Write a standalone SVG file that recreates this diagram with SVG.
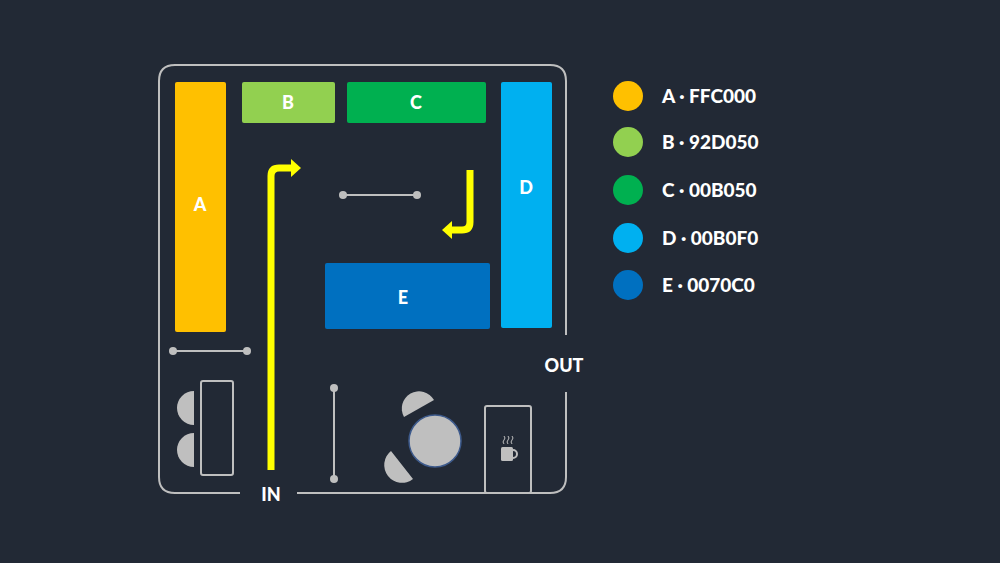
<svg xmlns="http://www.w3.org/2000/svg" width="1000" height="563" viewBox="0 0 1000 563">
<style>
.t{font-family:"Lato","Liberation Sans",sans-serif;font-weight:900;fill:#fff;font-size:18px;text-anchor:middle}
.lg{font-family:"Lato","Liberation Sans",sans-serif;font-weight:900;fill:#fff;font-size:19px}
.ln{stroke:#bfbfbf;stroke-width:2;fill:none}
.g{fill:#bfbfbf}
.y{stroke:#ffff00;stroke-width:7;fill:none}
</style>
<rect width="1000" height="563" fill="#222935"/>
<g id="walls">
<path class="ln" d="M240,493 H175 Q159,493 159,477 V81 Q159,65 175,65 H550 Q566,65 566,81 V335 M566,392 V477 Q566,493 550,493 H297"/>
</g>
<g id="A"><rect x="175" y="82" width="51" height="250" rx="2" fill="#ffc000"/><text class="t" x="200" y="211">A</text></g>
<g id="B"><rect x="242" y="82" width="93" height="41" rx="2" fill="#92d050"/><text class="t" x="288" y="109">B</text></g>
<g id="C"><rect x="347" y="82" width="139" height="41" rx="2" fill="#00b050"/><text class="t" x="416" y="109">C</text></g>
<g id="D"><rect x="501" y="82" width="51" height="246" rx="2" fill="#00b0f0"/><text class="t" x="526" y="194">D</text></g>
<g id="E"><rect x="325" y="263" width="165" height="66" rx="2" fill="#0070c0"/><text class="t" x="403" y="304">E</text></g>
<g id="connectors">
<path class="y" d="M271,470 V176 Q271,168 279,168 H292"/>
<polygon points="291,159 301,168 291,177" fill="#ffff00"/>
<path class="y" d="M470,170 V222 Q470,230 462,230 H451"/>
<polygon points="452,221 442,230 452,239" fill="#ffff00"/>
</g>
<g id="dividers" class="g">
<line class="ln" x1="343" y1="195" x2="417" y2="195"/><circle cx="343" cy="195" r="4"/><circle cx="417" cy="195" r="4"/>
<line class="ln" x1="173" y1="351" x2="247" y2="351"/><circle cx="173" cy="351" r="4"/><circle cx="247" cy="351" r="4"/>
<line class="ln" x1="334" y1="388" x2="334" y2="479"/><circle cx="334" cy="388" r="4"/><circle cx="334" cy="479" r="4"/>
</g>
<g id="desk">
<rect class="ln" x="201" y="381" width="32" height="94" rx="2"/>
<path class="g" d="M194,391 A17,17 0 0 0 194,425 Z"/>
<path class="g" d="M194,433 A17,17 0 0 0 194,467 Z"/>
</g>
<g id="roundtable">
<circle cx="435" cy="441" r="26" fill="#bfbfbf" stroke="#3d5a8c" stroke-width="1.5"/>
<path class="g" d="M404,417 A17,17 0 0 1 434,400 Z"/>
<path class="g" d="M413,479 A17,17 0 0 1 391,451 Z"/>
</g>
<g id="coffee">
<rect class="ln" x="485" y="406" width="46" height="87" rx="2"/>
<rect x="501" y="447" width="12" height="14" rx="1.5" fill="#bfbfbf"/>
<path d="M513,450 a4,4 0 0 1 0,8" stroke="#bfbfbf" stroke-width="2" fill="none"/>
<path d="M504,444 q-2,-2 0,-4 q2,-2 0,-4 M508,444 q-2,-2 0,-4 q2,-2 0,-4 M512,444 q-2,-2 0,-4 q2,-2 0,-4" stroke="#bfbfbf" stroke-width="1" fill="none"/>
</g>
<text class="t" x="271" y="501">IN</text>
<text class="t" x="564" y="372">OUT</text>
<g id="legend">
<circle cx="628" cy="96" r="15" fill="#ffc000"/><text class="lg" x="662" y="103">A · FFC000</text>
<circle cx="628" cy="142" r="15" fill="#92d050"/><text class="lg" x="662" y="149">B · 92D050</text>
<circle cx="628" cy="190" r="15" fill="#00b050"/><text class="lg" x="662" y="197">C · 00B050</text>
<circle cx="628" cy="238" r="15" fill="#00b0f0"/><text class="lg" x="662" y="245">D · 00B0F0</text>
<circle cx="628" cy="285" r="15" fill="#0070c0"/><text class="lg" x="662" y="292">E · 0070C0</text>
</g>
</svg>
